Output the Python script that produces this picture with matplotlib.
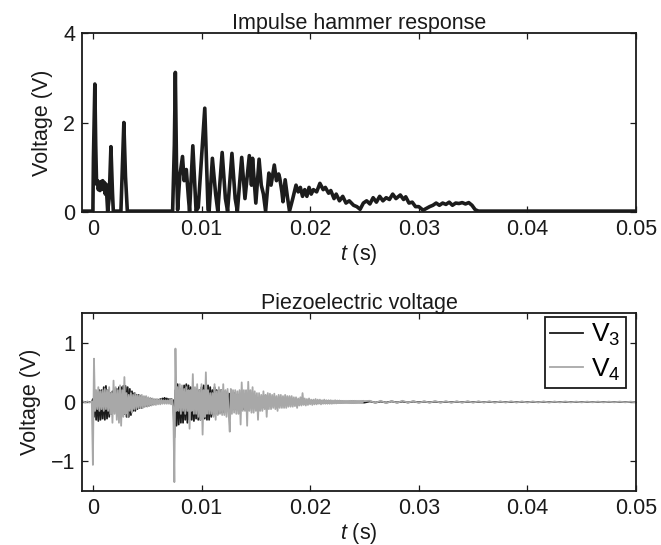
import numpy as np
import matplotlib
matplotlib.use("Agg")
import matplotlib.pyplot as plt

plt.rcParams['font.family'] = ['Liberation Sans', 'DejaVu Sans']
plt.rcParams['mathtext.fontset'] = 'custom'
plt.rcParams['mathtext.rm'] = 'Liberation Sans'
plt.rcParams['mathtext.it'] = 'Liberation Sans:italic'
plt.rcParams['mathtext.default'] = 'regular'

# ---------------- data ----------------
titles = ["Impulse hammer response", "Piezoelectric voltage"]
xlabel = r"$\mathit{t}$ (s)"
ylabel = "Voltage (V)"
xticks = [0, 0.01, 0.02, 0.03, 0.04, 0.05]
xticklabels = ["0", "0.01", "0.02", "0.03", "0.04", "0.05"]
top_yticks = [0, 2, 4]
top_yticklabels = ["0", "2", "4"]
bot_yticks = [-1, 0, 1]
bot_yticklabels = ["\u22121", "0", "1"]
legend_labels = ["V$_3$", "V$_4$"]

# impulse hammer response (vertices)
hammer_t = [-0.001, 0.0, 0.00005, 0.00018, 0.00026, 0.00034, 0.00042, 0.0005, 0.00058,
            0.00066, 0.00074, 0.00082, 0.0009, 0.00098, 0.00106, 0.00114, 0.00122,
            0.0013, 0.00136, 0.0015, 0.00166, 0.0018, 0.00188, 0.00258, 0.00285,
            0.003, 0.00317, 0.00734, 0.0075, 0.00759, 0.0077, 0.0078, 0.008, 0.00825,
            0.0084, 0.0086, 0.0088, 0.0089, 0.0092, 0.0095, 0.0097, 0.0103, 0.0106,
            0.0107, 0.011, 0.0113, 0.0115, 0.0119, 0.0122, 0.0124, 0.0128, 0.0131,
            0.0133, 0.0137, 0.014, 0.0144, 0.0146, 0.0147, 0.015, 0.0153, 0.0155,
            0.0157, 0.0159, 0.0162, 0.0164, 0.0167, 0.0169, 0.0171, 0.0172, 0.0174,
            0.0175, 0.0177, 0.0179, 0.0181, 0.0184, 0.0187, 0.0189, 0.0191, 0.0193,
            0.0195, 0.0197, 0.0199, 0.0201, 0.0203, 0.0206, 0.0209, 0.0212, 0.0214,
            0.0217, 0.0219, 0.0222, 0.0224, 0.0227, 0.023, 0.0233, 0.0236, 0.024,
            0.0243, 0.0246, 0.0249, 0.0252, 0.0255, 0.0258, 0.0261, 0.0264, 0.0267,
            0.027, 0.0273, 0.0276, 0.0279, 0.0283, 0.0286, 0.0288, 0.0291, 0.0294,
            0.0297, 0.03, 0.0304, 0.0307, 0.031, 0.0313, 0.0316, 0.0319, 0.0322,
            0.0325, 0.0328, 0.0331, 0.0334, 0.0337, 0.034, 0.0343, 0.0346, 0.0349,
            0.0352, 0.0355, 0.05]
hammer_v = [0.02, 0.02, 1.2, 2.86, 1.5, 0.62, 0.7, 0.5, 0.66, 0.48, 0.68, 0.52, 0.7,
            0.5, 0.66, 0.4, 0.62, 0.3, 0.02, 0.3, 1.46, 0.45, 0.02, 0.02, 2.0, 0.8,
            0.02, 0.02, 1.5, 3.12, 1.0, 0.05, 0.8, 1.24, 0.7, 0.95, 0.3, 0.02, 1.48,
            0.02, 0.1, 2.32, 0.05, 0.02, 1.2, 0.4, 0.02, 1.33, 0.3, 0.02, 1.31, 0.3,
            0.02, 1.22, 0.3, 1.26, 0.6, 1.2, 0.2, 1.18, 0.6, 0.4, 0.02, 0.87, 0.6,
            1.05, 0.7, 0.85, 0.76, 0.45, 0.23, 0.72, 0.35, 0.02, 0.3, 0.6, 0.45, 0.55,
            0.35, 0.5, 0.35, 0.55, 0.4, 0.5, 0.45, 0.64, 0.5, 0.55, 0.42, 0.48, 0.3,
            0.4, 0.25, 0.35, 0.2, 0.25, 0.15, 0.12, 0.06, 0.2, 0.25, 0.18, 0.32, 0.22,
            0.35, 0.25, 0.32, 0.28, 0.4, 0.3, 0.38, 0.28, 0.34, 0.2, 0.22, 0.12, 0.12,
            0.04, 0.08, 0.12, 0.15, 0.2, 0.15, 0.2, 0.17, 0.22, 0.15, 0.2, 0.19, 0.21,
            0.18, 0.21, 0.15, 0.05, 0.02, 0.02]

# piezoelectric voltages: samples every 0.1 ms from -1 ms to 25 ms (one row per ms),
# then a sparser tail every 0.5 ms
piezo_t0 = -0.001
piezo_dt = 0.0001
v4_burst = [
    0.0, 0.01, 0.0, -0.01, 0.0, 0.01, 0.0, -0.01, 0.0, 0.01,
    -1.06, 0.73, -0.15, 0.2, -0.12, 0.25, -0.15, 0.18, -0.12, 0.2,
    -0.15, 0.22, -0.12, 0.2, -0.15, 0.25, -0.2, 0.15, -0.35, 0.36,
    -0.2, 0.25, -0.3, 0.2, -0.35, 0.28, -0.4, 0.2, -0.25, 0.42,
    -0.2, 0.15, -0.25, 0.12, -0.15, 0.15, -0.18, 0.12, -0.12, 0.15,
    -0.12, 0.12, -0.1, 0.12, -0.1, 0.12, -0.1, 0.1, -0.08, 0.1,
    -0.08, 0.08, -0.07, 0.07, -0.06, 0.06, -0.05, 0.05, -0.05, 0.05,
    -0.04, 0.04, -0.04, 0.04, -0.03, 0.03, -0.03, 0.03, -0.03, 0.03,
    -0.03, 0.04, -0.04, 0.05, -0.1, -1.35, 0.9, -0.15, 0.25, -0.15,
    0.3, -0.2, 0.28, -0.15, 0.22, -0.2, 0.25, -0.15, 0.2, -0.45,
    0.2, -0.15, 0.47, -0.2, 0.25, -0.2, 0.3, -0.25, 0.2, -0.3,
    0.3, -0.55, 0.2, -0.25, 0.5, -0.2, 0.2, -0.2, 0.15, -0.2,
    0.15, -0.25, 0.3, -0.3, 0.18, -0.22, 0.25, -0.2, 0.2, -0.22,
    0.3, -0.22, 0.2, -0.25, 0.22, -0.2, -0.5, 0.22, -0.2, 0.2,
    -0.18, 0.2, -0.2, 0.18, -0.2, 0.2, -0.38, 0.33, -0.15, 0.2,
    -0.15, 0.2, -0.4, 0.34, -0.15, 0.2, -0.18, 0.25, -0.18, 0.18,
    -0.15, 0.15, -0.3, 0.15, -0.15, 0.12, -0.15, 0.18, -0.12, 0.12,
    -0.25, 0.15, -0.12, 0.14, -0.12, 0.12, -0.1, 0.14, -0.12, 0.1,
    -0.15, 0.12, -0.1, 0.12, -0.1, 0.1, -0.1, 0.12, -0.1, 0.1,
    -0.08, 0.1, -0.08, 0.1, -0.08, 0.08, -0.07, 0.08, -0.1, 0.06,
    -0.06, 0.08, -0.06, 0.15, -0.05, 0.06, -0.06, 0.05, -0.05, 0.06,
    -0.04, 0.04, -0.05, 0.04, -0.04, 0.05, -0.04, 0.04, -0.03, 0.04,
    -0.04, 0.03, -0.03, 0.04, -0.03, 0.03, -0.03, 0.03, -0.03, 0.03,
    -0.03, 0.025, -0.025, 0.03, -0.025, 0.025, -0.02, 0.025, -0.02, 0.02,
    -0.02, 0.02, -0.02, 0.02, -0.02, 0.02, -0.02, 0.02, -0.02, 0.02,
    -0.02, 0.02, -0.02, 0.02, -0.02, 0.02, -0.02, 0.02, -0.02, 0.02,
    0.015]
v3_burst = [
    0.0, 0.0, 0.0, 0.0, 0.0, 0.0, 0.0, 0.0, 0.0, 0.0,
    0.05, -0.25, 0.15, -0.3, 0.15, -0.32, 0.2, -0.3, 0.2, -0.28,
    0.25, -0.3, 0.27, -0.28, 0.2, -0.25, 0.15, -0.2, 0.18, -0.15,
    0.2, -0.15, 0.22, -0.15, 0.25, -0.18, 0.25, -0.2, 0.27, -0.2,
    0.27, -0.25, 0.25, -0.25, 0.22, -0.22, 0.18, -0.15, 0.15, -0.15,
    0.12, -0.12, 0.12, -0.1, 0.1, -0.1, 0.08, -0.08, 0.08, -0.07,
    0.06, -0.06, 0.05, -0.05, 0.05, -0.04, 0.04, -0.03, 0.04, -0.02,
    0.04, 0.0, 0.05, 0.02, 0.06, 0.03, 0.07, 0.03, 0.06, 0.03,
    0.05, 0.02, 0.05, 0.02, 0.03, -0.6, 0.2, -0.4, 0.3, -0.38,
    0.22, -0.35, 0.2, -0.35, 0.28, -0.3, 0.3, -0.35, 0.28, -0.3,
    0.25, -0.3, 0.2, -0.32, 0.2, -0.28, 0.22, -0.3, 0.2, -0.3,
    0.25, -0.25, 0.28, -0.28, 0.22, -0.3, 0.28, -0.3, 0.25, -0.25,
    0.2, -0.22, 0.25, -0.2, 0.2, -0.2, 0.2, -0.18, 0.2, -0.18,
    0.15, -0.18, 0.18, -0.15, 0.15, -0.15, 0.14, -0.15, 0.14, -0.12,
    0.15, -0.12, 0.12, -0.12, 0.12, -0.1, 0.12, -0.1, 0.1, -0.12,
    0.1, -0.1, 0.1, -0.1, 0.1, -0.08, 0.1, -0.08, 0.08, -0.08,
    0.08, -0.08, 0.07, -0.07, 0.07, -0.06, 0.06, -0.08, 0.06, -0.06,
    0.06, -0.05, 0.06, -0.05, 0.05, -0.05, 0.05, -0.05, 0.04, -0.04,
    0.05, -0.04, 0.04, -0.04, 0.04, -0.04, 0.04, -0.03, 0.04, -0.03,
    0.03, -0.03, 0.03, -0.03, 0.03, -0.03, 0.03, -0.025, 0.03, -0.025,
    0.025, -0.025, 0.025, -0.02, 0.025, -0.02, 0.02, -0.02, 0.02, -0.02,
    0.02, -0.02, 0.02, -0.02, 0.02, -0.015, 0.015, -0.015, 0.015, -0.015,
    0.015, -0.015, 0.015, -0.012, 0.012, -0.012, 0.012, -0.012, 0.012, -0.01,
    0.01, -0.012, 0.01, -0.01, 0.01, -0.01, 0.01, -0.01, 0.01, -0.01,
    0.01, -0.01, 0.01, -0.01, 0.01, -0.01, 0.01, -0.01, 0.01, -0.01,
    0.01, -0.01, 0.01, -0.01, 0.01, -0.01, 0.01, -0.01, 0.01, -0.01,
    -0.01]
tail_t0 = 0.0255
tail_dt = 0.0005
v4_tail = [0.02, -0.015, 0.02, -0.02, 0.015, -0.015, 0.02, -0.01, 0.015, -0.015,
           0.012, -0.012, 0.015, -0.01, 0.012, -0.012, 0.01, -0.01, 0.012, -0.01,
           0.01, -0.008, 0.01, -0.01, 0.008, -0.008, 0.01, -0.008, 0.008, -0.008,
           0.008, -0.006, 0.008, -0.008, 0.006, -0.006, 0.008, -0.006, 0.006, -0.006,
           0.006, -0.005, 0.006, -0.006, 0.005, -0.005, 0.006, -0.005, 0.005, -0.005]
v3_tail = [0.01, -0.01, 0.008, -0.01, 0.01, -0.008, 0.008, -0.008, 0.008, -0.006,
           0.006, -0.006, 0.006, -0.006, 0.005, -0.005, 0.005, -0.005, 0.005, -0.004,
           0.004, -0.004, 0.004, -0.004, 0.004, -0.003, 0.003, -0.003, 0.003, -0.003,
           0.003, -0.003, 0.003, -0.003, 0.003, -0.002, 0.002, -0.002, 0.002, -0.002,
           0.002, -0.002, 0.002, -0.002, 0.002, -0.002, 0.002, -0.002, 0.002, -0.002]

# ---------------- figure ----------------
FS = 15.5
fig = plt.figure(figsize=(6.61, 5.45), dpi=100)
ax1 = fig.add_axes([0.1241, 0.6110, 0.8381, 0.3284])
ax2 = fig.add_axes([0.1241, 0.0991, 0.8381, 0.3266])

ax1.plot(hammer_t, hammer_v, color='#1c1c1c', lw=2.6, solid_joinstyle='round')

burst_t = piezo_t0 + piezo_dt * np.arange(len(v4_burst))
tail_t = tail_t0 + tail_dt * np.arange(len(v4_tail))
t_all = np.concatenate([burst_t, tail_t])
v3_all = np.concatenate([v3_burst, v3_tail])
v4_all = np.concatenate([v4_burst, v4_tail])
ax2.plot(t_all, v3_all, color='#1a1a1a', lw=1.3, label=legend_labels[0])
ax2.plot(t_all, v4_all, color='#a8a8a8', lw=1.3, label=legend_labels[1])

for ax, title in zip([ax1, ax2], titles):
    ax.set_xlim(-0.001, 0.05)
    ax.set_xticks(xticks)
    ax.set_xticklabels(xticklabels)
    ax.tick_params(direction='in', top=True, right=True, length=4, width=0.9,
                   labelsize=FS, pad=5, colors='#1a1a1a')
    for s in ax.spines.values():
        s.set_linewidth(1.3)
        s.set_color('#1a1a1a')
    ax.set_title(title, fontsize=FS, pad=3, color='#1a1a1a')
    ax.set_xlabel(xlabel, fontsize=FS, labelpad=1.5, color='#1a1a1a')
    ax.set_ylabel(ylabel, fontsize=FS, labelpad=7, color='#1a1a1a')

ax1.set_ylim(0, 4)
ax1.set_yticks(top_yticks)
ax1.set_yticklabels(top_yticklabels)
ax2.set_ylim(-1.5, 1.5)
ax2.set_yticks(bot_yticks)
ax2.set_yticklabels(bot_yticklabels)

leg = ax2.legend(loc='upper right', bbox_to_anchor=(0.982, 0.978), borderaxespad=0,
                 fontsize=19, fancybox=False, framealpha=1, edgecolor='#1a1a1a',
                 handlelength=1.25, handletextpad=0.3, borderpad=0.2, labelspacing=0.3)
leg.get_frame().set_linewidth(1.3)

fig.savefig("out.png", dpi=100)
